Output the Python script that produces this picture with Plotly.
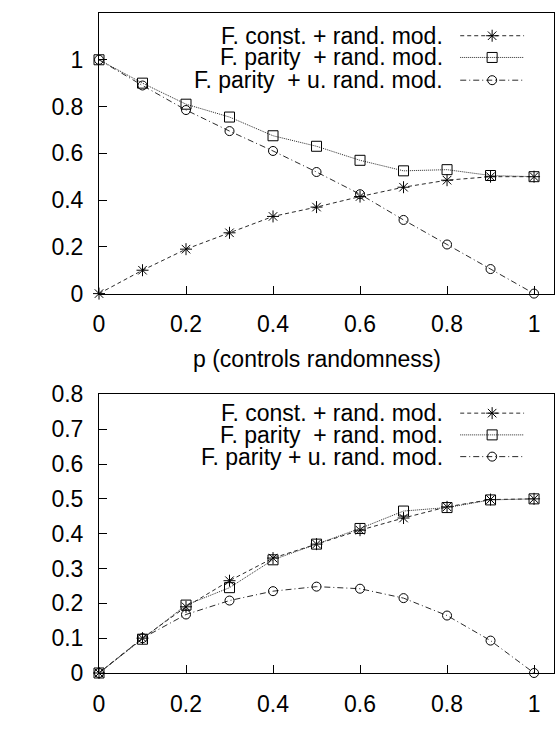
import plotly.graph_objects as go

# ---------------- data ----------------
P = [0.0, 0.1, 0.2, 0.3, 0.4, 0.5, 0.6, 0.7, 0.8, 0.9, 1.0]

C1_CONST = [0.0, 0.10, 0.19, 0.26, 0.33, 0.37, 0.415, 0.455, 0.485, 0.50, 0.50]
C1_PARITY = [1.0, 0.90, 0.81, 0.755, 0.675, 0.63, 0.57, 0.525, 0.53, 0.505, 0.50]
C1_PARITY_U = [1.0, 0.89, 0.785, 0.695, 0.61, 0.52, 0.425, 0.315, 0.21, 0.105, 0.0]

C2_CONST = [0.0, 0.10, 0.19, 0.265, 0.33, 0.37, 0.41, 0.445, 0.477, 0.498, 0.50]
C2_PARITY = [0.0, 0.097, 0.195, 0.245, 0.325, 0.37, 0.415, 0.465, 0.475, 0.497, 0.50]
C2_PARITY_U = [0.0, 0.10, 0.168, 0.208, 0.235, 0.248, 0.242, 0.215, 0.165, 0.093, 0.0]

LABELS_TOP = ["F. const. + rand. mod.",
              "F. parity\u00a0 + rand. mod.",
              "F. parity\u00a0 + u. rand. mod."]
LABELS_BOT = ["F. const. + rand. mod.",
              "F. parity\u00a0 + rand. mod.",
              "F. parity + u. rand. mod."]

X_TICKS = [0.0, 0.2, 0.4, 0.6, 0.8, 1.0]
X_TICKTEXT = ["0", "0.2", "0.4", "0.6", "0.8", "1"]
Y1_TICKS = [0.0, 0.2, 0.4, 0.6, 0.8, 1.0]
Y1_TICKTEXT = ["0", "0.2", "0.4", "0.6", "0.8", "1"]
Y2_TICKS = [0.0, 0.1, 0.2, 0.3, 0.4, 0.5, 0.6, 0.7, 0.8]
Y2_TICKTEXT = ["0", "0.1", "0.2", "0.3", "0.4", "0.5", "0.6", "0.7", "0.8"]

X_TITLE = "p (controls randomness)"
Y1_TITLE = "C<sub>1</sub>"
Y2_TITLE = "C<sub>2</sub>"

# ---------------- geometry / style ----------------
W, H = 555, 751
ML, MR, MT, MB = 99, 0, 5, 78
PW, PH = W - ML - MR, H - MT - MB
X0_PX, X1_PX = 99, 535          # pixel of p=0 and p=1
TOP_Y0_PX, TOP_YMAX_PX = 289, 5  # top panel: y=0 and top frame
BOT_Y0_PX, BOT_YMAX_PX = 673, 391


def ypaper(py):
    return (H - MB - py) / PH


XMAX = (W - MR - X0_PX) / (X1_PX - X0_PX)

FONT = "Liberation Sans, Arial, Helvetica, sans-serif"
FS = 23
LINE_COL = "#2a2a2a"
STYLES = [
    dict(dash="4px,3px", symbol="asterisk-open", size=10),
    dict(dash="1px,1px", symbol="square-open", size=10),
    dict(dash="6px,3px,1px,3px", symbol="circle-open", size=9),
]

fig = go.Figure()

panels = [
    ("x", "y", [C1_CONST, C1_PARITY, C1_PARITY_U]),
    ("x2", "y2", [C2_CONST, C2_PARITY, C2_PARITY_U]),
]
for xa, ya, series in panels:
    for vals, st in zip(series, STYLES):
        fig.add_trace(go.Scatter(
            x=P, y=vals, xaxis=xa, yaxis=ya, mode="lines+markers",
            line=dict(color=LINE_COL, width=1, dash=st["dash"]),
            marker=dict(symbol=st["symbol"], size=st["size"], color="black",
                        line=dict(color="black", width=1)),
            cliponaxis=False, showlegend=False, hoverinfo="skip"))

# ---------------- manual legends (pixel overlay axes) ----------------
LEG_ROWS_TOP = [28, 50, 73]
LEG_ROWS_BOT = [410, 432, 454]
LEG_TEXT_RIGHT = 446
LEG_LINE = (461, 525)
LEG_MARK = 493

annotations = []
for rows, labels in ((LEG_ROWS_TOP, LABELS_TOP), (LEG_ROWS_BOT, LABELS_BOT)):
    for ry, lab, st in zip(rows, labels, STYLES):
        fig.add_trace(go.Scatter(
            x=list(LEG_LINE), y=[ry, ry], xaxis="x3", yaxis="y3", mode="lines",
            line=dict(color=LINE_COL, width=1, dash=st["dash"]),
            showlegend=False, hoverinfo="skip", cliponaxis=False))
        fig.add_trace(go.Scatter(
            x=[LEG_MARK], y=[ry], xaxis="x3", yaxis="y3", mode="markers",
            marker=dict(symbol=st["symbol"], size=st["size"], color="black",
                        line=dict(color="black", width=1)),
            showlegend=False, hoverinfo="skip", cliponaxis=False))
        annotations.append(dict(
            x=LEG_TEXT_RIGHT, y=ry, xref="x3", yref="y3", text=lab,
            xanchor="right", yanchor="middle", showarrow=False,
            font=dict(family=FONT, size=FS, color="black")))

# axis titles
annotations += [
    dict(x=(X0_PX + X1_PX) / 2, y=355, xref="x3", yref="y3", text=X_TITLE,
         xanchor="center", yanchor="middle", showarrow=False,
         font=dict(family=FONT, size=FS, color="black")),
    dict(x=(X0_PX + X1_PX) / 2, y=735, xref="x3", yref="y3", text=X_TITLE,
         xanchor="center", yanchor="middle", showarrow=False,
         font=dict(family=FONT, size=FS, color="black")),
    dict(x=16, y=(TOP_Y0_PX + TOP_YMAX_PX) / 2, xref="x3", yref="y3",
         text=Y1_TITLE, textangle=-90, xanchor="center", yanchor="middle",
         showarrow=False, font=dict(family=FONT, size=FS, color="black")),
    dict(x=16, y=(BOT_Y0_PX + BOT_YMAX_PX) / 2, xref="x3", yref="y3",
         text=Y2_TITLE, textangle=-90, xanchor="center", yanchor="middle",
         showarrow=False, font=dict(family=FONT, size=FS, color="black")),
]

axis_common = dict(showgrid=False, zeroline=False, showline=True, mirror=True,
                   linecolor="black", linewidth=1, ticks="inside", ticklen=8,
                   tickwidth=1, tickcolor="black",
                   tickfont=dict(family=FONT, size=FS, color="black"))

fig.update_layout(
    width=W, height=H, autosize=False,
    margin=dict(l=ML, r=MR, t=MT, b=MB, pad=0),
    paper_bgcolor="white", plot_bgcolor="rgba(0,0,0,0)",
    showlegend=False,
    xaxis=dict(domain=[0, 1], anchor="y", range=[0, XMAX], tickvals=X_TICKS,
               ticktext=X_TICKTEXT, ticklabelstandoff=10, **axis_common),
    yaxis=dict(domain=[ypaper(TOP_Y0_PX), ypaper(TOP_YMAX_PX)], anchor="x",
               range=[0, 1.2], tickvals=Y1_TICKS, ticktext=Y1_TICKTEXT,
               ticklabelstandoff=10, **axis_common),
    xaxis2=dict(domain=[0, 1], anchor="y2", range=[0, XMAX], tickvals=X_TICKS,
                ticktext=X_TICKTEXT, ticklabelstandoff=10, **axis_common),
    yaxis2=dict(domain=[0, ypaper(BOT_YMAX_PX)], anchor="x2",
                range=[0, 0.8], tickvals=Y2_TICKS, ticktext=Y2_TICKTEXT,
                ticklabelstandoff=10, **axis_common),
    xaxis3=dict(domain=[0, 1], anchor="y3", range=[ML, W - MR], visible=False,
                fixedrange=True),
    yaxis3=dict(domain=[0, 1], anchor="x3", range=[H - MB, MT], visible=False,
                fixedrange=True),
    annotations=annotations,
)

fig.write_html("out.html", config={"displayModeBar": False})
